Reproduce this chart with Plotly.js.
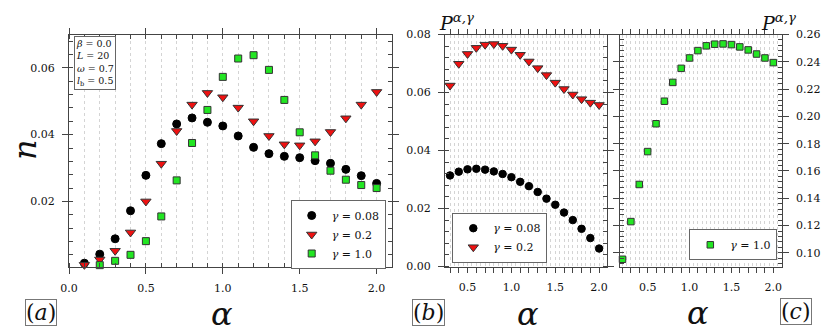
<!DOCTYPE html>
<html>
<head>
<meta charset="utf-8">
<script src="https://cdn.plot.ly/plotly-3.0.1.min.js"></script>
<style>html,body{margin:0;padding:0;background:#fff;}#chart{width:830px;height:333px;}</style>
</head>
<body>
<div id="chart"></div>
<script>
// ---- data ----
const alphaA = [0.1,0.2,0.3,0.4,0.5,0.6,0.7,0.8,0.9,1.0,1.1,1.2,1.3,1.4,1.5,1.6,1.7,1.8,1.9,2.0];
const nGamma008 = [0.0015,0.0042,0.0088,0.0172,0.0278,0.0373,0.0432,0.0450,0.0437,0.0426,0.0396,0.0362,0.0343,0.0335,0.0331,0.0322,0.0314,0.0296,0.0277,0.0254];
const nGamma02  = [0.0010,0.0026,0.0052,0.0107,0.0200,0.0313,0.0411,0.0490,0.0525,0.0512,0.0481,0.0440,0.0396,0.0371,0.0368,0.0380,0.0408,0.0449,0.0490,0.0528];
const nGamma10  = [0.0003,0.0009,0.0022,0.0040,0.0081,0.0155,0.0263,0.0375,0.0474,0.0573,0.0628,0.0638,0.0594,0.0504,0.0407,0.0338,0.0292,0.0265,0.0249,0.0240];

const alphaB = [0.3,0.4,0.5,0.6,0.7,0.8,0.9,1.0,1.1,1.2,1.3,1.4,1.5,1.6,1.7,1.8,1.9,2.0];
const pGamma008 = [0.0314,0.0327,0.0335,0.0337,0.0334,0.0328,0.0319,0.0308,0.0292,0.0277,0.0257,0.0234,0.0213,0.0186,0.0160,0.0130,0.0098,0.0062];
const pGamma02  = [0.0624,0.0699,0.0733,0.0754,0.0765,0.0767,0.0761,0.0748,0.0730,0.0707,0.0684,0.0660,0.0634,0.0612,0.0593,0.0577,0.0565,0.0557];

const alphaC = [0.2,0.3,0.4,0.5,0.6,0.7,0.8,0.9,1.0,1.1,1.2,1.3,1.4,1.5,1.6,1.7,1.8,1.9,2.0];
const pGamma10 = [0.0953,0.1229,0.1501,0.1742,0.1946,0.2111,0.2249,0.2352,0.2428,0.2482,0.2517,0.2529,0.2531,0.2526,0.2509,0.2487,0.2457,0.2428,0.2394];

const legendNames = ['<i>γ</i> = 0.08', '<i>γ</i> = 0.2', '<i>γ</i> = 1.0'];
const xTickValsBC = [0.2,0.3,0.4,0.5,0.6,0.7,0.8,0.9,1.0,1.1,1.2,1.3,1.4,1.5,1.6,1.7,1.8,1.9,2.0];
const xTickTextBC = ['','','','0.5','','','','','1.0','','','','','1.5','','','','','2.0'];

// ---- style ----
const FONT = 'DejaVu Serif';
const AX = '#444';
const GRID = '#d4d4d4';
const W = 830, H = 333;
const px = v => v / W;
const py = v => 1 - v / H;

const mBlack = {symbol:'circle', size:8, color:'#000', line:{color:'#000', width:1}};
const mRed = {symbol:'triangle-down', size:9, color:'#ee1111', line:{color:'#333', width:1}};
const mGreen = {symbol:'square', size:7, color:'#22e622', line:{color:'#333', width:1}};

const traces = [
  {x: alphaA, y: nGamma008, xaxis:'x', yaxis:'y', mode:'markers', marker: mBlack, name: legendNames[0], legend:'legend', cliponaxis:false},
  {x: alphaA, y: nGamma02,  xaxis:'x', yaxis:'y', mode:'markers', marker: mRed, name: legendNames[1], legend:'legend', cliponaxis:false},
  {x: alphaA, y: nGamma10,  xaxis:'x', yaxis:'y', mode:'markers', marker: mGreen, name: legendNames[2], legend:'legend', cliponaxis:false},
  {x: alphaB, y: pGamma008, xaxis:'x2', yaxis:'y2', mode:'markers', marker: Object.assign({}, mBlack, {size:7.5}), name: legendNames[0], legend:'legend2', cliponaxis:false},
  {x: alphaB, y: pGamma02,  xaxis:'x2', yaxis:'y2', mode:'markers', marker: mRed, name: legendNames[1], legend:'legend2', cliponaxis:false},
  {x: alphaC, y: pGamma10,  xaxis:'x3', yaxis:'y3', mode:'markers', marker: Object.assign({}, mGreen, {size:6.5}), name: legendNames[2], legend:'legend3', cliponaxis:false}
];

const tickFont = {family: FONT, size: 11, color:'#111'};
const baseAxis = {
  showline:true, linecolor:AX, linewidth:1, mirror:'ticks', zeroline:false,
  ticks:'outside', ticklen:6, tickcolor:AX, tickwidth:1, tickfont: tickFont,
  ticklabelstandoff:3, automargin:false
};
const gridStyle = {gridcolor:GRID, griddash:'dot', gridwidth:1};

const yTop = py(34.5), yBot = py(266.5);

const layout = {
  width: W, height: H,
  margin: {l:0, r:0, t:0, b:0},
  paper_bgcolor:'#fff', plot_bgcolor:'#fff',
  showlegend: true,
  font: {family: FONT, color:'#111'},
  xaxis: Object.assign({}, baseAxis, gridStyle, {
    domain:[px(69), px(392)], anchor:'y', range:[0, 2.1],
    dtick:0.5, tick0:0, tickformat:'.1f', showgrid:true, ticklabelstandoff:5,
    minor:{dtick:0.1, ticks:'inside', ticklen:4, tickcolor:AX, showgrid:true, gridcolor:GRID, griddash:'dot'}
  }),
  yaxis: Object.assign({}, baseAxis, {
    domain:[yBot, yTop], anchor:'x', range:[0.0005, 0.07],
    dtick:0.02, tick0:0, tickformat:'.2f', showgrid:false, ticklabelstandoff:5,
    minor:{dtick:0.004, ticks:'inside', ticklen:4, tickcolor:AX, showgrid:false}
  }),
  xaxis2: Object.assign({}, baseAxis, gridStyle, {
    domain:[px(445), px(607)], anchor:'y2', range:[0.243, 2.09],
    tickmode:'array', tickvals: xTickValsBC, ticktext: xTickTextBC, ticklen:5, showgrid:true,
    ticklabelstandoff:5,
    minor:{dtick:0.05, tick0:0, ticks:'', showgrid:true, gridcolor:GRID, griddash:'dot'}
  }),
  yaxis2: Object.assign({}, baseAxis, {
    domain:[yBot, yTop], anchor:'x2', range:[0, 0.08],
    dtick:0.02, tick0:0, tickformat:'.2f', showgrid:false, ticklabelstandoff:5,
    minor:{dtick:0.004, ticks:'inside', ticklen:4, tickcolor:AX, showgrid:false}
  }),
  xaxis3: Object.assign({}, baseAxis, gridStyle, {
    domain:[px(620), px(781.7)], anchor:'y3', range:[0.17, 2.1],
    tickmode:'array', tickvals: xTickValsBC, ticktext: xTickTextBC, ticklen:5, showgrid:true,
    ticklabelstandoff:5,
    minor:{dtick:0.05, tick0:0, ticks:'', showgrid:true, gridcolor:GRID, griddash:'dot'}
  }),
  yaxis3: Object.assign({}, baseAxis, {
    domain:[yBot, yTop], anchor:'x3', side:'right', range:[0.09, 0.26],
    dtick:0.02, tick0:0, tickformat:'.2f', showgrid:false, ticklabelstandoff:5,
    minor:{dtick:0.004, ticks:'inside', ticklen:4, tickcolor:AX, showgrid:false}
  }),
  legend: {x:px(290.7), y:py(200), xanchor:'left', yanchor:'top', bgcolor:'#fff', bordercolor:'#666', borderwidth:1,
           font:{family:FONT, size:11, color:'#111'}, itemwidth:30, tracegroupgap:0},
  legend2: {x:px(452.3), y:py(212.7), xanchor:'left', yanchor:'top', bgcolor:'#fff', bordercolor:'#666', borderwidth:1,
           font:{family:FONT, size:11, color:'#111'}, itemwidth:30, tracegroupgap:0},
  legend3: {x:px(689.3), y:py(229.3), xanchor:'left', yanchor:'top', bgcolor:'#fff', bordercolor:'#666', borderwidth:1,
           font:{family:FONT, size:11, color:'#111'}, itemwidth:30, tracegroupgap:0},
  annotations: [
    {xref:'paper', yref:'paper', x:px(222), y:py(314), text:'<i>α</i>', showarrow:false, xanchor:'center', yanchor:'middle', font:{family:FONT, size:32, color:'#111'}},
    {xref:'paper', yref:'paper', x:px(528), y:py(314), text:'<i>α</i>', showarrow:false, xanchor:'center', yanchor:'middle', font:{family:FONT, size:32, color:'#111'}},
    {xref:'paper', yref:'paper', x:px(698), y:py(313), text:'<i>α</i>', showarrow:false, xanchor:'center', yanchor:'middle', font:{family:FONT, size:32, color:'#111'}},
    {xref:'paper', yref:'paper', x:px(25), y:py(150), text:'<i>n</i>', showarrow:false, xanchor:'center', yanchor:'middle', textangle:-90, font:{family:FONT, size:32, color:'#111'}},
    {xref:'paper', yref:'paper', x:px(41), y:py(312), text:'(<i>a</i>)', showarrow:false, xanchor:'center', yanchor:'middle', bordercolor:'#777', borderwidth:1, borderpad:0, font:{family:FONT, size:22, color:'#111'}},
    {xref:'paper', yref:'paper', x:px(428.3), y:py(312), text:'(<i>b</i>)', showarrow:false, xanchor:'center', yanchor:'middle', bordercolor:'#777', borderwidth:1, borderpad:0, font:{family:FONT, size:22, color:'#111'}},
    {xref:'paper', yref:'paper', x:px(796), y:py(311.7), text:'(<i>c</i>)', showarrow:false, xanchor:'center', yanchor:'middle', bordercolor:'#777', borderwidth:1, borderpad:0, font:{family:FONT, size:22, color:'#111'}},
    {xref:'paper', yref:'paper', x:px(437), y:py(22), text:'<i>P</i><sup><i>α,γ</i></sup>', showarrow:false, xanchor:'left', yanchor:'middle', font:{family:FONT, size:19, color:'#111'}},
    {xref:'paper', yref:'paper', x:px(759), y:py(22), text:'<i>P</i><sup><i>α,γ</i></sup>', showarrow:false, xanchor:'left', yanchor:'middle', font:{family:FONT, size:19, color:'#111'}},
    {xref:'paper', yref:'paper', x:px(74), y:py(36), text:'<i>β</i> = 0.0<br><i>L</i> = 20<br><i>ω</i> = 0.7<br><i>l</i><sub>b</sub> = 0.5', showarrow:false, xanchor:'left', yanchor:'top', align:'left', bgcolor:'#fff', bordercolor:'#666', borderwidth:1, borderpad:1, font:{family:FONT, size:9.5, color:'#111'}}
  ]
};

Plotly.newPlot('chart', traces, layout, {staticPlot:true, displayModeBar:false});
</script>
</body>
</html>
